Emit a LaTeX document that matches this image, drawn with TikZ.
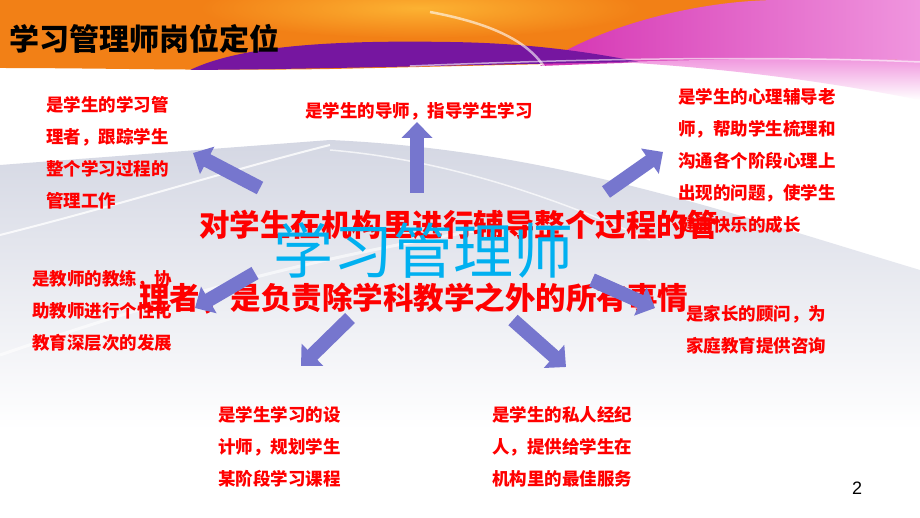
\documentclass[tikz,border=0pt]{standalone}
\usepackage{fontspec}
\setmainfont{Liberation Sans}
\newfontfamily\cjk{Noto Sans CJK SC}
\usetikzlibrary{arrows.meta}
\definecolor{rayblue}{RGB}{118,118,206}
\definecolor{bigcyan}{RGB}{0,176,240}
\definecolor{bnorange}{RGB}{242,128,22}
\definecolor{bnyellow}{RGB}{252,178,50}
\definecolor{bnpurple}{RGB}{118,22,160}
\definecolor{bnmagenta}{RGB}{212,50,178}
\definecolor{bnpink}{RGB}{240,150,222}
\definecolor{swgrey}{RGB}{212,215,227}
\begin{document}
\begin{tikzpicture}[x=1pt,y=-1pt,
  lab/.style={anchor=base west, inner sep=0pt, align=left, text=red, font=\cjk\bfseries\fontsize{17.5}{32}\selectfont},
  mid/.style={anchor=base west, inner sep=0pt, text=red, font=\cjk\bfseries\fontsize{30.5}{34}\selectfont},
  ray/.style={line width=14pt, draw=rayblue, -{Triangle[width=30pt,length=16pt]}}]
\useasboundingbox[fill=white] (0,0) rectangle (920,518);
\shade[top color=swgrey, bottom color=white] (0,165) -- (330,140) .. controls (550,150) and (720,210) .. (920,270) -- (920,430) -- (0,430) -- cycle;
\draw[white, line width=2pt, opacity=0.8] (0,235) .. controls (120,205) and (230,170) .. (330,145);
\draw[white, line width=3pt, opacity=0.6] (0,355) .. controls (160,300) and (300,260) .. (480,230);
\draw[white, line width=1.5pt, opacity=0.7] (330,150) .. controls (450,160) and (560,200) .. (650,240);
\fill[bnorange] (0,0) -- (920,0) -- (920,60) .. controls (760,58) and (560,64) .. (330,69) .. controls (200,71) and (100,68) .. (0,68) -- cycle;
\shade[inner color=bnyellow, outer color=bnorange] (420,8) ellipse (220 and 30);
\shade[left color=bnmagenta, right color=bnpink] (540,66) .. controls (600,25) and (700,0) .. (780,0) -- (920,0) -- (920,60) .. controls (760,58) and (640,62) .. cycle;
\fill[bnpurple] (190,70) .. controls (240,46) and (330,40) .. (450,42) .. controls (520,43) and (580,50) .. (640,62) .. controls (500,64) and (330,69) .. cycle;
\shade[top color=bnpink, bottom color=white] (620,62) .. controls (760,58) and (850,58) .. (920,60) -- (920,100) .. controls (820,80) and (720,68) .. cycle;
\draw[white, line width=2.5pt, opacity=0.6] (430,12) .. controls (500,25) and (530,45) .. (545,68);
\draw[white, line width=1.5pt, opacity=0.6] (410,66) .. controls (600,58) and (780,56) .. (920,62);
\node[anchor=base west, inner sep=0pt, font=\cjk\bfseries\fontsize{30}{32}\selectfont] (title) at (9,51) {学习管理师岗位定位};
\node[lab] (lab0) at (46,208) {是学生的学习管\\理者，跟踪学生\\整个学习过程的\\管理工作};
\node[lab] (lab1) at (305,118) {是学生的导师，指导学生学习};
\node[lab] (lab2) at (678,232) {是学生的心理辅导老\\师，帮助学生梳理和\\沟通各个阶段心理上\\出现的问题，使学生\\健康快乐的成长};
\node[lab] (lab3) at (32,349) {是教师的教练，协\\助教师进行个性化\\教育深层次的发展};
\node[lab] (lab4) at (686,352) {是家长的顾问，为\\家庭教育提供咨询};
\node[lab] (lab5) at (218,485) {是学生学习的设\\计师，规划学生\\某阶段学习课程};
\node[lab] (lab6) at (492,485) {是学生的私人经纪\\人，提供给学生在\\机构里的最佳服务};
\node[mid] (mid0) at (199,237) {对学生在机构里进行辅导整个过程的管};
\node[mid] (mid1) at (139,309) {理者，是负责除学科教学之外的所有事情};
\node[anchor=base west, inner sep=0pt, text=bigcyan, font=\cjk\fontsize{60}{64}\selectfont] (core) at (273,274) {学习管理师};
\coordinate (t0) at (260,188); \coordinate (h0) at (193,153);
\coordinate (t1) at (417,193); \coordinate (h1) at (417,122);
\coordinate (t2) at (606,192); \coordinate (h2) at (663,152);
\coordinate (t3) at (255,273); \coordinate (h3) at (195,308);
\coordinate (t4) at (592,280); \coordinate (h4) at (655,308);
\coordinate (t5) at (350,318); \coordinate (h5) at (301,366);
\coordinate (t6) at (513,320); \coordinate (h6) at (566,367);
\draw[ray] (t0) -- (h0);
\draw[ray] (t1) -- (h1);
\draw[ray] (t2) -- (h2);
\draw[ray] (t3) -- (h3);
\draw[ray] (t4) -- (h4);
\draw[ray] (t5) -- (h5);
\draw[ray] (t6) -- (h6);
\node[font=\fontsize{18}{20}\selectfont] (pg) at (857,488) {2};
\end{tikzpicture}
\end{document}
